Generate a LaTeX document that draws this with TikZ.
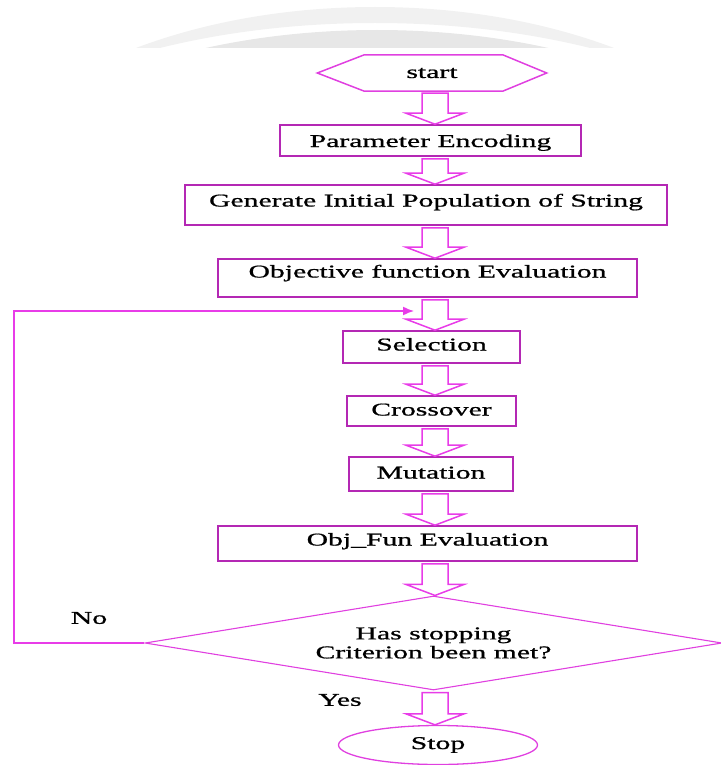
\documentclass[tikz,border=0pt]{standalone}
\usepackage{fontspec}
\setmainfont[FakeStretch=1.65,FakeBold=0.9]{Liberation Serif}
\usetikzlibrary{shapes.geometric,calc,arrows.meta}
\definecolor{boxcol}{RGB}{180,40,180}
\definecolor{arrcol}{RGB}{232,60,232}
\definecolor{diacol}{RGB}{224,64,224}
\def\ax{435pt}
\newcommand\barrow[2]{%
  \draw[blockarr] let \p1=(#1.south), \p2=(#2.north) in
  (\ax-13pt,\y1-2pt) -- (\ax+13pt,\y1-2pt) -- (\ax+13pt,\y2+11pt) -- (\ax+29pt,\y2+11pt)
  -- (\ax,\y2) -- (\ax-29pt,\y2+11pt) -- (\ax-13pt,\y2+11pt) -- cycle;}
\begin{document}
\begin{tikzpicture}[x=1pt,y=-1pt,
  every node/.style={font=\fontsize{18}{20}\selectfont},
  procbox/.style={draw=boxcol,line width=1.6pt,inner sep=0pt,text height=13pt},
  blockarr/.style={draw=arrcol,line width=1.5pt,fill=white,line join=miter},
  fbline/.style={draw=arrcol,line width=1.5pt},
  lbl/.style={inner sep=0pt}]
\useasboundingbox (0,0) rectangle (720,765);
% faint watermark arcs at the top
\begin{scope}
  \clip (0,0) rectangle (720,48);
  \fill[gray!11,even odd rule] (375,250) ellipse [x radius=430, y radius=243]
                                (375,250) ellipse [x radius=471, y radius=227];
  \fill[gray!19] (377,250) ellipse [x radius=432, y radius=220];
\end{scope}
% start hexagon
\node[inner sep=0pt,minimum width=229pt,minimum height=36pt] (start) at (432,73) {start};
\draw[draw=diacol,line width=1.5pt] (start.west) -- ([xshift=47pt]start.north west)
  -- ([xshift=-44pt]start.north east) -- (start.east) -- ([xshift=-44pt]start.south east)
  -- ([xshift=47pt]start.south west) -- cycle;
% process boxes
\node[procbox,text depth=0pt,minimum width=301pt,minimum height=31pt] (param) at (430.5,140.5) {Parameter Encoding};
\node[procbox,text depth=10pt,minimum width=482pt,minimum height=40pt] (gen) at (426,205) {Generate Initial Population of String};
\node[procbox,text depth=14pt,minimum width=419pt,minimum height=38pt] (obj) at (427.5,278) {Objective function Evaluation};
\node[procbox,text depth=6pt,minimum width=177pt,minimum height=32pt] (sel) at (431.5,347) {Selection};
\node[procbox,text depth=4pt,minimum width=169pt,minimum height=30pt] (cross) at (431.5,411) {Crossover};
\node[procbox,text depth=4pt,minimum width=164pt,minimum height=34pt] (mut) at (431,474) {Mutation};
\node[procbox,text depth=9pt,minimum width=419pt,minimum height=35pt] (objfun) at (427.5,543.5) {Obj\_Fun Evaluation};
% decision
\node[diamond,draw=diacol,line width=1.1pt,inner sep=0pt,aspect=6.1,
  minimum width=577pt,minimum height=94pt,align=center,
  font=\fontsize{18}{19}\selectfont] (dec) at (433.5,643) {Has stopping\\Criterion been met?};
% stop
\node[ellipse,draw=diacol,line width=1.3pt,inner sep=0pt,minimum width=199pt,minimum height=39pt] (stop) at (438,745) {Stop};
% block arrows
\barrow{start}{param}
\barrow{param}{gen}
\barrow{gen}{obj}
\barrow{obj}{sel}
\barrow{sel}{cross}
\barrow{cross}{mut}
\barrow{mut}{objfun}
\barrow{objfun}{dec}
\barrow{dec}{stop}
% feedback loop
\coordinate (c1) at (14,643);
\coordinate (c2) at (14,311);
\coordinate (c3) at (414,311);
\draw[fbline,-{Latex[length=11pt,width=9pt]}] (dec.west) -- (c1) -- (c2) -- (c3);
% labels
\node[lbl] (no) at (89,618) {No};
\node[lbl] (yes) at (340,700) {Yes};
\end{tikzpicture}
\end{document}
